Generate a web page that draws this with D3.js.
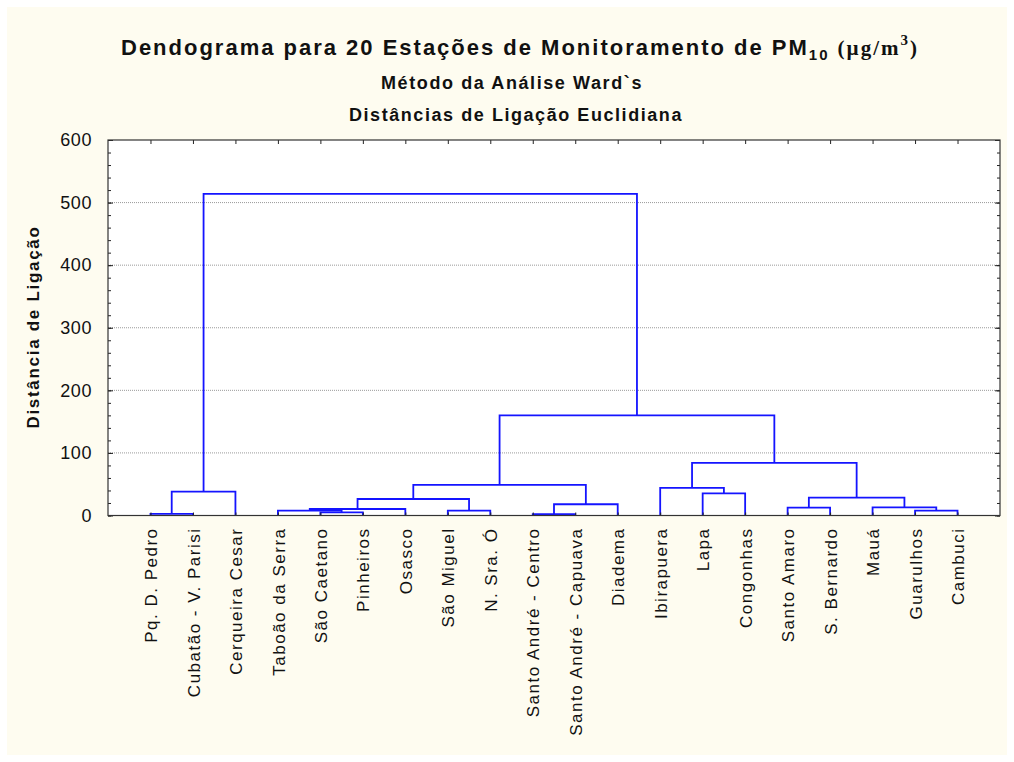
<!DOCTYPE html>
<html>
<head>
<meta charset="utf-8">
<script src="https://cdn.jsdelivr.net/npm/d3@7"></script>
<style>
  body { margin: 0; background: #ffffff; }
  text { font-family: "Liberation Sans", Arial, sans-serif; }
</style>
</head>
<body>
<svg id="chart" width="1014" height="762"></svg>
<script>
// Monitoring stations, in dendrogram leaf order
const stations = [
  "Pq. D. Pedro", "Cubatão - V. Parisi", "Cerqueira Cesar", "Taboão da Serra",
  "São Caetano", "Pinheiros", "Osasco", "São Miguel", "N. Sra. Ó",
  "Santo André - Centro", "Santo André - Capuava", "Diadema", "Ibirapuera",
  "Lapa", "Congonhas", "Santo Amaro", "S. Bernardo", "Mauá", "Guarulhos", "Cambuci"
];

// Ward merge table (hclust convention): negative = station (1-based), positive = earlier merge (1-based)
const mergeLeft   = [-1,  1, -5, -4,  4, -8,  5, -10,  8,  7, -14, -13, -16, -19, -18, 13, 12,  10,   2];
const mergeRight  = [-2, -3, -6,  3, -7, -9,  6, -11, -12, 9, -15,  11, -17, -20,  14, 15, 16,  17,  18];
const mergeHeight = [2.5, 38, 5, 7.7, 10.4, 7.7, 26.4, 2, 18, 49, 35.5, 44, 12.5, 7.7, 13, 28.5, 84, 160, 514];

const yMajorTicks = [0, 100, 200, 300, 400, 500, 600];
const yGridTicks  = [100, 200, 300, 400, 500];

const svg = d3.select("#chart");
const W = 1014, H = 762;
const plot = { left: 108, right: 1000, top: 140, bottom: 515.5 };

// page background
svg.append("rect").attr("width", W).attr("height", H).attr("fill", "#ffffff");
svg.append("rect").attr("x", 7).attr("y", 7).attr("width", 1000).attr("height", 748)
  .attr("fill", "#fefcf0");

// plot area
svg.append("rect")
  .attr("x", plot.left).attr("y", plot.top)
  .attr("width", plot.right - plot.left).attr("height", plot.bottom - plot.top)
  .attr("fill", "#ffffff");

const x = d3.scalePoint().domain(stations).range([plot.left, plot.right]).padding(1);
const y = d3.scaleLinear().domain([0, 600]).range([plot.bottom, plot.top]);

// dotted grid
svg.append("g").selectAll("line").data(yGridTicks).join("line")
  .attr("x1", plot.left).attr("x2", plot.right)
  .attr("y1", d => y(d)).attr("y2", d => y(d))
  .attr("stroke", "#9a9a9a").attr("stroke-width", 1)
  .attr("stroke-dasharray", "1,1");

// dendrogram links
const nodes = [];
function nodeOf(ref) {
  if (ref < 0) return { x: x(stations[-ref - 1]), h: 0 };
  return nodes[ref - 1];
}
const links = [];
mergeLeft.forEach((l, i) => {
  const a = nodeOf(l), b = nodeOf(mergeRight[i]);
  const h = mergeHeight[i];
  nodes.push({ x: (a.x + b.x) / 2, h: h });
  links.push({ a, b, h });
});
svg.append("g").selectAll("path").data(links).join("path")
  .attr("d", d => `M${d.a.x},${y(d.a.h)}V${y(d.h)}H${d.b.x}V${y(d.b.h)}`)
  .attr("fill", "none")
  .attr("stroke", "#1414ff")
  .attr("stroke-width", 1.8);

// axes with inward ticks
const axisColor = "#222";
const gl = svg.append("g").attr("transform", `translate(${plot.left},0)`)
  .call(d3.axisLeft(y).tickValues(d3.range(0, 601, 20)).tickSizeInner(-3).tickSizeOuter(0).tickFormat(""));
gl.append("g").call(d3.axisLeft(y).tickValues(yMajorTicks).tickSizeInner(-5).tickSizeOuter(0).tickPadding(16));
const gr = svg.append("g").attr("transform", `translate(${plot.right},0)`)
  .call(d3.axisRight(y).tickValues(d3.range(0, 601, 20)).tickSizeInner(-3).tickSizeOuter(0).tickFormat(""));
gr.append("g").call(d3.axisRight(y).tickValues(yMajorTicks).tickSizeInner(-5).tickSizeOuter(0).tickFormat(""));
const gt = svg.append("g").attr("transform", `translate(0,${plot.top})`)
  .call(d3.axisTop(x).tickSizeInner(-4).tickSizeOuter(0).tickFormat(""));
const gb = svg.append("g").attr("transform", `translate(0,${plot.bottom})`)
  .call(d3.axisBottom(x).tickSizeInner(-3).tickSizeOuter(0));

svg.selectAll(".domain").remove();
svg.selectAll(".tick line").attr("stroke", axisColor);

gl.selectAll("text")
  .attr("font-size", 18).attr("fill", "#111")
  .style("font-family", "'Liberation Sans', Arial, sans-serif")
  .attr("letter-spacing", "0.6px");

gb.selectAll("text")
  .attr("font-size", 17).attr("fill", "#111")
  .style("font-family", "'Liberation Sans', Arial, sans-serif")
  .attr("letter-spacing", "1.5px")
  .attr("transform", "rotate(-90)")
  .attr("text-anchor", "end")
  .attr("x", -12).attr("y", 0).attr("dy", "0.36em");

// frame
svg.append("rect")
  .attr("x", plot.left).attr("y", plot.top)
  .attr("width", plot.right - plot.left).attr("height", plot.bottom - plot.top)
  .attr("fill", "none").attr("stroke", "#333").attr("stroke-width", 1.2);

// y axis title
svg.append("text")
  .attr("transform", "translate(39,327) rotate(-90)")
  .attr("text-anchor", "middle")
  .attr("font-size", 17).attr("font-weight", "bold").attr("fill", "#111")
  .attr("letter-spacing", "1.7px")
  .text("Distância de Ligação");

// titles
function fitSpacing(sel, target) {
  const w = sel.node().getComputedTextLength();
  const n = sel.text().length;
  sel.attr("letter-spacing", ((target - w) / n) + "px");
}

const title = svg.append("text")
  .attr("x", 121).attr("y", 55)
  .attr("font-size", 22).attr("font-weight", "bold").attr("fill", "#111");
title.append("tspan").text("Dendograma para 20 Estações de Monitoramento de PM");
title.append("tspan").attr("font-size", 15).attr("dy", 5).text("10");
title.append("tspan").attr("dy", -5).text(" ");
title.append("tspan").style("font-family", "'Liberation Serif', 'Times New Roman', serif")
  .attr("font-size", 21).text("(µg/m");
title.append("tspan").style("font-family", "'Liberation Serif', 'Times New Roman', serif")
  .attr("font-size", 15).attr("dy", -10).text("3");
title.append("tspan").style("font-family", "'Liberation Serif', 'Times New Roman', serif")
  .attr("font-size", 21).attr("dy", 10).text(")");
fitSpacing(title, 798);

const sub1 = svg.append("text")
  .attr("x", 381).attr("y", 89)
  .attr("font-size", 18).attr("font-weight", "bold").attr("fill", "#111")
  .text("Método da Análise Ward`s");
fitSpacing(sub1, 262);

const sub2 = svg.append("text")
  .attr("x", 349).attr("y", 121)
  .attr("font-size", 18).attr("font-weight", "bold").attr("fill", "#111")
  .text("Distâncias de Ligação Euclidiana");
fitSpacing(sub2, 334);
</script>
</body>
</html>
